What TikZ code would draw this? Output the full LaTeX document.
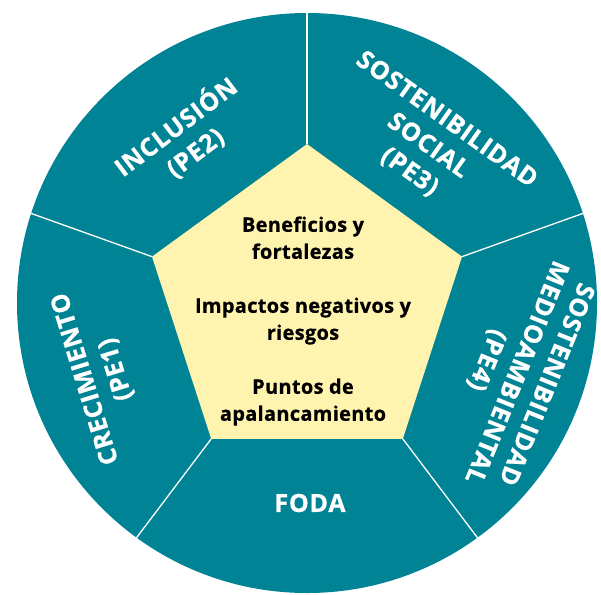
\documentclass[tikz,border=0pt]{standalone}
\usepackage{fontspec}
\setmainfont{Open Sans}
\newfontfamily\segfont[LetterSpace=3, BoldFeatures={FakeBold=0.8}]{Open Sans}
\newfontfamily\corefont[LetterSpace=1.5, BoldFeatures={FakeBold=0.6}]{Open Sans}
\usepackage{tikz}
\usetikzlibrary{positioning, calc, shapes}
\definecolor{petrol}{RGB}{0,131,148}
\definecolor{paleyellow}{RGB}{255,243,176}

\tikzset{
	seglabel/.style={text=white, align=center, inner sep=0pt, font=\segfont\bfseries\fontsize{25}{32}\selectfont},
	divider/.style={draw=white, line width=1.3pt},
}

\begin{document}
\begin{tikzpicture}[x=1pt, y=1pt]
		\useasboundingbox (0,0) rectangle (601,-594);
		\coordinate (c) at (307,-303);
		\node[circle, fill=petrol, inner sep=0pt, outer sep=0pt, minimum size=580pt] (disc) at (c) {};
		\node[regular polygon, regular polygon sides=5, fill=paleyellow, inner sep=0pt, outer sep=0pt, minimum size=326pt] (penta) at (307,-307) {};
		
		\foreach \i/\a in {1/90, 2/162, 3/234, 4/306, 5/18} {
			\coordinate (rim-\i) at ($(c)+(\a:292)$);
			\draw[divider] (penta.corner \i) -- (rim-\i);
		}
		
		\node[align=center, font=\corefont\bfseries\fontsize{20}{27}\selectfont] (swot) at (303,-321) {Beneficios y\\fortalezas\\[27pt]Impactos negativos y\\riesgos\\[27pt]Puntos de\\apalancamiento};
		
		\node[seglabel, rotate=37] (pe2) at (185,-139) {INCLUSIÓN\\(PE2)};
		\node[seglabel, rotate=-35.5] (pe3) at (428,-146) {SOSTENIBILIDAD\\SOCIAL\\(PE3)};
		\node[seglabel, rotate=-112] (pe4) at (516,-372) {SOSTENIBILIDAD\\MEDIOAMBIENTAL\\(PE4)};
		\node[seglabel, rotate=107] (pe1) at (101,-374) {CRECIMIENTO\\(PE1)};
		\node[seglabel] (foda) at (310,-503) {FODA};
	\end{tikzpicture}
\end{document}
